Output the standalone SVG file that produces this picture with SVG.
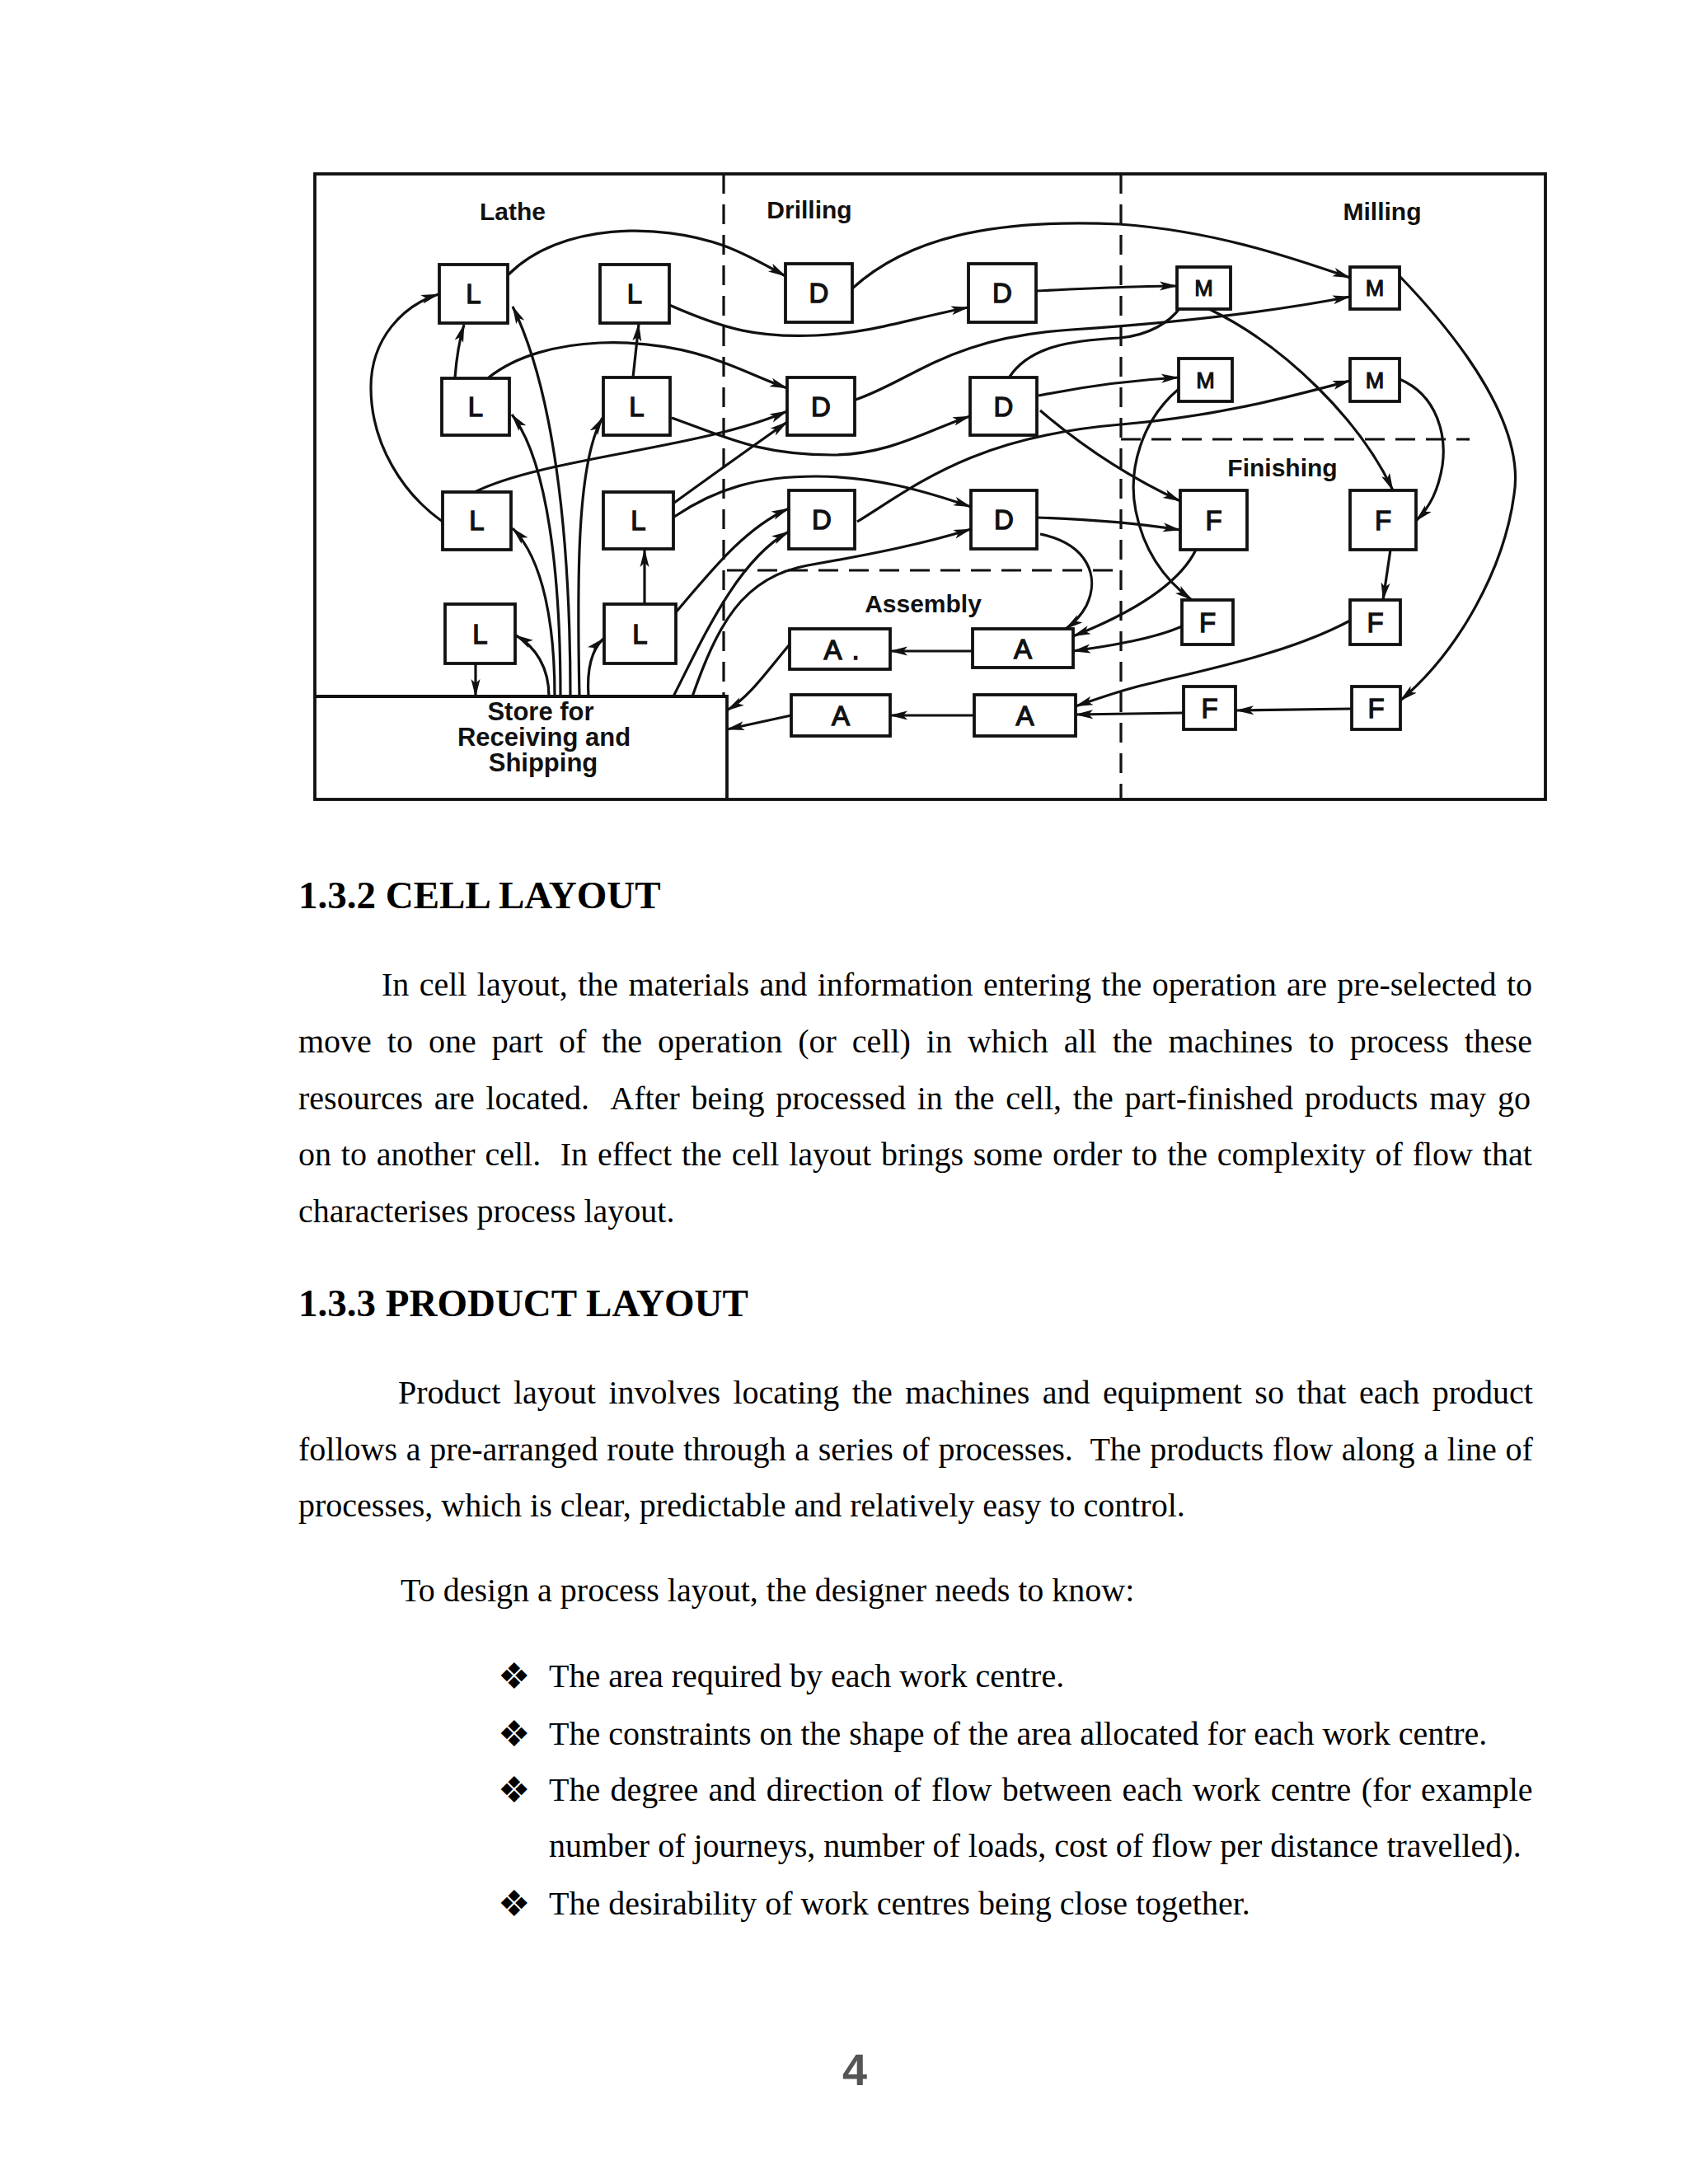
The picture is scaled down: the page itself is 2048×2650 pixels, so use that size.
<svg xmlns="http://www.w3.org/2000/svg" width="2048" height="2650" viewBox="0 0 2048 2650">
<defs>
<marker id="ah" markerUnits="userSpaceOnUse" viewBox="0 0 22 12" refX="21" refY="6" markerWidth="22" markerHeight="12" orient="auto">
<path d="M0,0.5 L22,6 L0,11.5 L5,6 z" fill="#111"/>
</marker>
</defs>
<style>
.frame{fill:none;stroke:#111;stroke-width:3.8}
.dash{fill:none;stroke:#111;stroke-width:3.2;stroke-dasharray:24 13}
.box{fill:#fff;stroke:#111;stroke-width:3.8}
.c{fill:none;stroke:#111;stroke-width:3.2}
.a{marker-end:url(#ah)}
.lbl{font-family:"Liberation Sans",Arial,sans-serif;font-size:30px;font-weight:bold;fill:#111;text-anchor:middle}
.st{font-family:"Liberation Sans",Arial,sans-serif;font-size:31px;font-weight:bold;fill:#111;text-anchor:middle}
.bx{font-family:"Liberation Sans",Arial,sans-serif;font-size:33px;fill:#111;text-anchor:middle;stroke:#111;stroke-width:1.3}
.bxs{font-family:"Liberation Sans",Arial,sans-serif;font-size:27px;fill:#111;text-anchor:middle;stroke:#111;stroke-width:1.2}
.body{font-family:"Liberation Serif","Times New Roman",serif;font-size:40px;fill:#000}
.h{font-family:"Liberation Serif","Times New Roman",serif;font-size:47px;font-weight:bold;fill:#000}
.bul{font-family:"DejaVu Sans",sans-serif;font-size:44px;fill:#000}
</style>
<rect width="2048" height="2650" fill="#fff"/>

<g id="frame">
<rect class="frame" x="382" y="211" width="1493" height="759"/>
<line class="dash" x1="878" y1="211" x2="878" y2="845"/>
<line class="dash" x1="1360" y1="211" x2="1360" y2="970"/>
<line class="dash" x1="882" y1="692" x2="1360" y2="692"/>
<line class="dash" x1="1360" y1="533" x2="1783" y2="533"/>
<text class="lbl" x="622" y="267">Lathe</text>
<text class="lbl" x="982" y="265">Drilling</text>
<text class="lbl" x="1677" y="267">Milling</text>
<text class="lbl" x="1556" y="578">Finishing</text>
<text class="lbl" x="1120" y="743">Assembly</text>
</g>

<g id="connectors">
<path class="c a" d="M537,633 C490,600 450,540 450,470 C450,410 490,370 532,357"/>
<path class="c a" d="M552,458 Q555,420 563,394"/>
<path class="c a" d="M692,845 C692,640 670,470 622,372"/>
<path class="c a" d="M680,845 C680,700 665,560 621,503"/>
<path class="c a" d="M673,845 C673,760 660,680 622,641"/>
<path class="c a" d="M666,845 C666,810 650,785 626,771"/>
<path class="c a" d="M703,845 C700,700 700,560 731,507"/>
<path class="c a" d="M714,845 C712,815 716,790 732,775"/>
<path class="c a" d="M577,805 L577,845"/>
<path class="c a" d="M768,458 L775,393"/>
<path class="c a" d="M782,733 L782,667"/>
<path class="c a" d="M617,333 C680,270 800,270 878,298 C905,308 930,322 953,335"/>
<path class="c a" d="M593,458 C660,405 790,405 878,440 C905,450 930,462 955,471"/>
<path class="c a" d="M812,370 C880,400 920,410 990,407 C1060,404 1110,385 1175,373"/>
<path class="c a" d="M815,507 C880,530 920,552 1010,552 C1080,552 1130,520 1177,505"/>
<path class="c a" d="M576,597 C660,555 850,545 955,499"/>
<path class="c a" d="M818,610 Q880,565 955,512"/>
<path class="c a" d="M818,627 C870,592 920,578 990,578 C1060,578 1120,595 1178,615"/>
<path class="c a" d="M820,743 C865,690 905,640 957,617"/>
<path class="c a" d="M817,845 C855,770 895,680 957,645"/>
<path class="c a" d="M840,845 C870,760 900,700 980,686 C1060,672 1120,660 1178,642"/>
<path class="c a" d="M1034,350 C1100,290 1200,265 1358,272 C1470,280 1560,310 1638,337"/>
<path class="c a" d="M1257,353 C1320,350 1380,347 1428,347"/>
<path class="c a" d="M1038,485 C1110,460 1150,410 1300,400 C1450,390 1560,375 1638,360"/>
<path class="c" d="M1225,457 C1250,420 1300,413 1358,410 C1395,407 1420,390 1432,373"/>
<path class="c a" d="M1260,480 C1310,470 1360,462 1430,458"/>
<path class="c a" d="M1262,498 Q1340,565 1432,608"/>
<path class="c a" d="M1040,633 C1110,590 1180,530 1360,515 C1480,505 1570,480 1638,462"/>
<path class="c a" d="M1258,628 C1320,630 1380,635 1432,643"/>
<path class="c a" d="M1262,648 C1320,660 1335,700 1318,735 C1310,750 1300,758 1293,763"/>
<path class="c a" d="M1467,375 C1560,420 1650,510 1690,595"/>
<path class="c a" d="M1698,335 C1780,420 1850,520 1837,600 C1825,690 1770,790 1699,850"/>
<path class="c a" d="M1698,460 C1745,480 1755,530 1750,565 C1745,595 1735,615 1718,632"/>
<path class="c a" d="M1430,472 C1385,510 1368,570 1378,620 C1388,670 1415,705 1446,728"/>
<path class="c a" d="M1451,667 C1430,710 1370,745 1302,772"/>
<path class="c a" d="M1434,760 C1400,775 1350,783 1302,790"/>
<path class="c a" d="M1638,753 C1560,795 1450,815 1380,833 C1350,841 1325,850 1305,857"/>
<path class="c a" d="M1436,865 L1305,867"/>
<path class="c a" d="M1640,860 L1500,862"/>
<path class="c a" d="M1687,667 L1678,728"/>
<path class="c a" d="M1180,790 L1080,790"/>
<path class="c a" d="M1182,868 L1080,868"/>
<path class="c a" d="M958,782 C930,815 910,845 882,862"/>
<path class="c a" d="M960,868 L882,885"/>
</g>

<g id="store">
<path class="frame" d="M382,845 L882,845 L882,970"/>
<text class="st" x="656" y="874">Store for</text>
<text class="st" x="660" y="905">Receiving and</text>
<text class="st" x="659" y="936">Shipping</text>
</g>

<g id="L11"><rect class="box" x="533" y="321" width="83" height="71"/><text class="bx" x="574.5" y="368">L</text></g>
<g id="L12"><rect class="box" x="728" y="321" width="84" height="71"/><text class="bx" x="770" y="368">L</text></g>
<g id="L21"><rect class="box" x="536" y="459" width="82" height="69"/><text class="bx" x="577" y="505">L</text></g>
<g id="L22"><rect class="box" x="732" y="458" width="81" height="70"/><text class="bx" x="772.5" y="505">L</text></g>
<g id="L31"><rect class="box" x="537" y="597" width="83" height="70"/><text class="bx" x="578.5" y="643">L</text></g>
<g id="L32"><rect class="box" x="732" y="597" width="85" height="69"/><text class="bx" x="774.5" y="643">L</text></g>
<g id="L41"><rect class="box" x="540" y="733" width="85" height="72"/><text class="bx" x="582.5" y="781">L</text></g>
<g id="L42"><rect class="box" x="733" y="733" width="87" height="72"/><text class="bx" x="776.5" y="781">L</text></g>

<g id="D11"><rect class="box" x="953" y="320" width="81" height="71"/><text class="bx" x="993.5" y="367">D</text></g>
<g id="D12"><rect class="box" x="1175" y="320" width="82" height="71"/><text class="bx" x="1216" y="367">D</text></g>
<g id="D21"><rect class="box" x="955" y="458" width="82" height="70"/><text class="bx" x="996" y="505">D</text></g>
<g id="D22"><rect class="box" x="1177" y="458" width="81" height="70"/><text class="bx" x="1217.5" y="505">D</text></g>
<g id="D31"><rect class="box" x="957" y="595" width="80" height="71"/><text class="bx" x="997" y="642">D</text></g>
<g id="D32"><rect class="box" x="1178" y="595" width="80" height="71"/><text class="bx" x="1218" y="642">D</text></g>

<g id="M11"><rect class="box" x="1428" y="324" width="65" height="51"/><text class="bxs" x="1460.5" y="359">M</text></g>
<g id="M12"><rect class="box" x="1638" y="324" width="60" height="51"/><text class="bxs" x="1668" y="359">M</text></g>
<g id="M21"><rect class="box" x="1430" y="435" width="65" height="52"/><text class="bxs" x="1462.5" y="471">M</text></g>
<g id="M22"><rect class="box" x="1638" y="435" width="60" height="52"/><text class="bxs" x="1668" y="471">M</text></g>

<g id="F11"><rect class="box" x="1432" y="595" width="81" height="72"/><text class="bx" x="1472.5" y="643">F</text></g>
<g id="F12"><rect class="box" x="1638" y="595" width="80" height="72"/><text class="bx" x="1678" y="643">F</text></g>
<g id="F21"><rect class="box" x="1434" y="728" width="62" height="54"/><text class="bx" x="1465" y="767">F</text></g>
<g id="F22"><rect class="box" x="1638" y="728" width="61" height="54"/><text class="bx" x="1668.5" y="767">F</text></g>
<g id="F31"><rect class="box" x="1436" y="833" width="63" height="52"/><text class="bx" x="1467.5" y="871">F</text></g>
<g id="F32"><rect class="box" x="1640" y="833" width="59" height="52"/><text class="bx" x="1669.5" y="871">F</text></g>

<g id="A11"><rect class="box" x="958" y="763" width="122" height="49"/><text class="bx" x="1021" y="800">A<tspan dx="12">.</tspan></text></g>
<g id="A12"><rect class="box" x="1180" y="763" width="122" height="47"/><text class="bx" x="1241" y="799">A</text></g>
<g id="A21"><rect class="box" x="960" y="843" width="120" height="50"/><text class="bx" x="1020" y="880">A</text></g>
<g id="A22"><rect class="box" x="1182" y="843" width="123" height="50"/><text class="bx" x="1243.5" y="880">A</text></g>

<g id="text">
<text class="h" x="362" y="1102">1.3.2 CELL LAYOUT</text>
<text class="body" x="463" y="1208" style="word-spacing:2.4px">In cell layout, the materials and information entering the operation are pre-selected to</text>
<text class="body" x="362" y="1277" style="word-spacing:9px">move to one part of the operation (or cell) in which all the machines to process these</text>
<text class="body" x="362" y="1346" style="word-spacing:3.8px" xml:space="preserve">resources are located.  After being processed in the cell, the part-finished products may go</text>
<text class="body" x="362" y="1414" style="word-spacing:1.8px" xml:space="preserve">on to another cell.  In effect the cell layout brings some order to the complexity of flow that</text>
<text class="body" x="362" y="1483">characterises process layout.</text>
<text class="h" x="362" y="1597">1.3.3 PRODUCT LAYOUT</text>
<text class="body" x="483" y="1703" style="word-spacing:5.5px">Product layout involves locating the machines and equipment so that each product</text>
<text class="body" x="362" y="1772" style="word-spacing:0.7px" xml:space="preserve">follows a pre-arranged route through a series of processes.  The products flow along a line of</text>
<text class="body" x="362" y="1840">processes, which is clear, predictable and relatively easy to control.</text>
<text class="body" x="486" y="1943">To design a process layout, the designer needs to know:</text>
<text class="bul" x="604" y="2049">❖</text>
<text class="body" x="666" y="2047">The area required by each work centre.</text>
<text class="bul" x="604" y="2119">❖</text>
<text class="body" x="666" y="2117">The constraints on the shape of the area allocated for each work centre.</text>
<text class="bul" x="604" y="2187">❖</text>
<text class="body" x="666" y="2185" style="word-spacing:2.4px">The degree and direction of flow between each work centre (for example</text>
<text class="body" x="666" y="2253">number of journeys, number of loads, cost of flow per distance travelled).</text>
<text class="bul" x="604" y="2325">❖</text>
<text class="body" x="666" y="2323">The desirability of work centres being close together.</text>
<text x="1037" y="2530" font-family="'Liberation Sans',Arial,sans-serif" font-size="54" font-weight="bold" fill="#555" text-anchor="middle">4</text>
</g>
</svg>
